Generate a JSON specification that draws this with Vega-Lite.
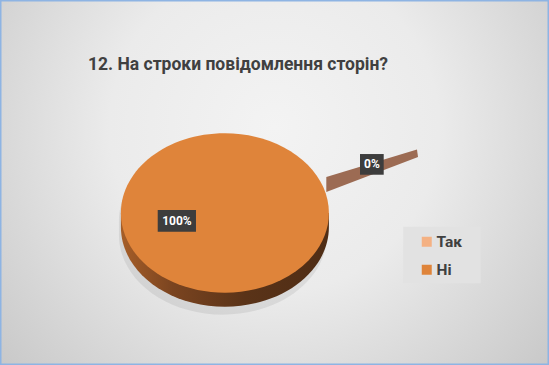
{
  "$schema": "https://vega.github.io/schema/vega-lite/v6.json",
  "width": 549,
  "height": 365,
  "padding": 0,
  "autosize": {"type": "none"},
  "background": "#e6e6e6",
  "title": {
    "text": "12. На строки повідомлення сторін?",
    "anchor": "start",
    "frame": "group",
    "dx": 88,
    "offset": -75,
    "font": "Roboto",
    "fontSize": 17.5,
    "fontWeight": "bold",
    "color": "#404040"
  },
  "data": {
    "values": [
      {"answer": "Так", "share": 0, "label": "0%"},
      {"answer": "Ні", "share": 100, "label": "100%"}
    ]
  },
  "layer": [
    {
      "transform": [{"filter": "datum.answer == 'Ні'"}],
      "mark": {
        "type": "rect",
        "fill": {
          "gradient": "radial",
          "x1": 0.5, "y1": 0.4, "r1": 0,
          "x2": 0.5, "y2": 0.4, "r2": 0.75,
          "stops": [
            {"offset": 0, "color": "#f3f3f3"},
            {"offset": 0.4, "color": "#ebebeb"},
            {"offset": 1, "color": "#c0c0c0"}
          ]
        },
        "stroke": "#8eb4e3",
        "strokeWidth": 3
      }
    },
    {
      "transform": [{"filter": "datum.answer == 'Ні'"}],
      "mark": {
        "type": "point",
        "filled": true,
        "opacity": 1,
        "strokeWidth": 0,
        "size": 43264,
        "xOffset": -49.6,
        "yOffset": 30.5,
        "fill": "#e2e2e2",
        "shape": "M 1.715 0.132 L 2.46 0.132 L 2.46 0.676 L 1.715 0.676 Z"
      }
    },
    {
      "transform": [{"filter": "datum.answer == 'Ні'"}],
      "mark": {
        "type": "point",
        "filled": true,
        "opacity": 0.07,
        "fill": "#000000",
        "strokeWidth": 0,
        "size": 43264,
        "xOffset": -51.6,
        "yOffset": 38.5,
        "shape": "M -1 0 C -1 -0.423 -0.5523 -0.766 0 -0.766 C 0.5523 -0.766 1 -0.423 1 0 L 1 0.135 C 1 0.558 0.5523 0.901 0 0.901 C -0.5523 0.901 -1 0.558 -1 0.135 Z"
      }
    },
    {
      "transform": [{"filter": "datum.answer == 'Ні'"}],
      "mark": {
        "type": "point",
        "filled": true,
        "opacity": 1,
        "strokeWidth": 0,
        "size": 43264,
        "xOffset": -49.6,
        "yOffset": 30.5,
        "fill": {
          "gradient": "linear",
          "x1": 0, "y1": 0, "x2": 1, "y2": 0,
          "stops": [
            {"offset": 0, "color": "#a65e28"},
            {"offset": 0.25, "color": "#7a4420"},
            {"offset": 0.6, "color": "#5a3318"},
            {"offset": 1, "color": "#4f2d15"}
          ]
        },
        "shape": "M -1 0 L -1 0.135 C -1 0.558 -0.5523 0.901 0 0.901 C 0.5523 0.901 1 0.558 1 0.135 L 1 0 Z"
      }
    },
    {
      "transform": [{"filter": "datum.answer == 'Так'"}],
      "mark": {
        "type": "point",
        "filled": true,
        "opacity": 1,
        "strokeWidth": 0,
        "size": 43264,
        "xOffset": -49.6,
        "yOffset": 30.5,
        "fill": "#9c6b53",
        "shape": "M 0.975 -0.346 L 1.847 -0.611 L 1.857 -0.538 L 0.975 -0.202 Z"
      }
    },
    {
      "transform": [{"filter": "datum.answer == 'Ні'"}],
      "mark": {
        "type": "point",
        "filled": true,
        "opacity": 1,
        "strokeWidth": 0,
        "size": 43264,
        "xOffset": -49.6,
        "yOffset": 30.5,
        "shape": "M -1 0 C -1 -0.423 -0.5523 -0.766 0 -0.766 C 0.5523 -0.766 1 -0.423 1 0 C 1 0.423 0.5523 0.766 0 0.766 C -0.5523 0.766 -1 0.423 -1 0 Z"
      },
      "encoding": {
        "color": {
          "field": "answer",
          "type": "nominal",
          "scale": {"domain": ["Так", "Ні"], "range": ["#f4b183", "#df843a"]},
          "legend": {
            "title": null,
            "orient": "none",
            "legendX": 403,
            "legendY": 226,
            "padding": 8,
            "symbolOffset": 8,
            "symbolType": "square",
            "symbolSize": 100,
            "symbolStrokeWidth": 0,
            "symbolOpacity": 1,
            "labelFont": "Roboto",
            "labelFontSize": 15.5,
            "labelFontWeight": "bold",
            "labelColor": "#404040",
            "labelOffset": 2,
            "rowPadding": 11
          }
        }
      }
    },
    {
      "transform": [{"filter": "datum.answer == 'Ні'"}],
      "mark": {
        "type": "point",
        "filled": true,
        "opacity": 1,
        "strokeWidth": 0,
        "size": 43264,
        "xOffset": -49.6,
        "yOffset": 30.5,
        "fill": "#3d3d3d",
        "shape": "M -0.646 -0.029 L -0.278 -0.029 L -0.278 0.18 L -0.646 0.18 Z"
      }
    },
    {
      "transform": [{"filter": "datum.answer == 'Так'"}],
      "mark": {
        "type": "point",
        "filled": true,
        "opacity": 1,
        "strokeWidth": 0,
        "size": 43264,
        "xOffset": -49.6,
        "yOffset": 30.5,
        "fill": "#3d3d3d",
        "shape": "M 1.299 -0.567 L 1.527 -0.567 L 1.527 -0.368 L 1.299 -0.368 Z"
      }
    },
    {
      "transform": [{"filter": "datum.answer == 'Ні'"}],
      "mark": {
        "type": "text",
        "font": "Roboto",
        "fontSize": 12,
        "fontWeight": "bold",
        "color": "#ffffff",
        "align": "center",
        "baseline": "middle",
        "xOffset": -97.6,
        "yOffset": 38.5
      },
      "encoding": {"text": {"field": "label"}}
    },
    {
      "transform": [{"filter": "datum.answer == 'Так'"}],
      "mark": {
        "type": "text",
        "font": "Roboto",
        "fontSize": 12,
        "fontWeight": "bold",
        "color": "#ffffff",
        "align": "center",
        "baseline": "middle",
        "xOffset": 97.4,
        "yOffset": -18.2
      },
      "encoding": {"text": {"field": "label"}}
    }
  ],
  "config": {"view": {"stroke": null}}
}
